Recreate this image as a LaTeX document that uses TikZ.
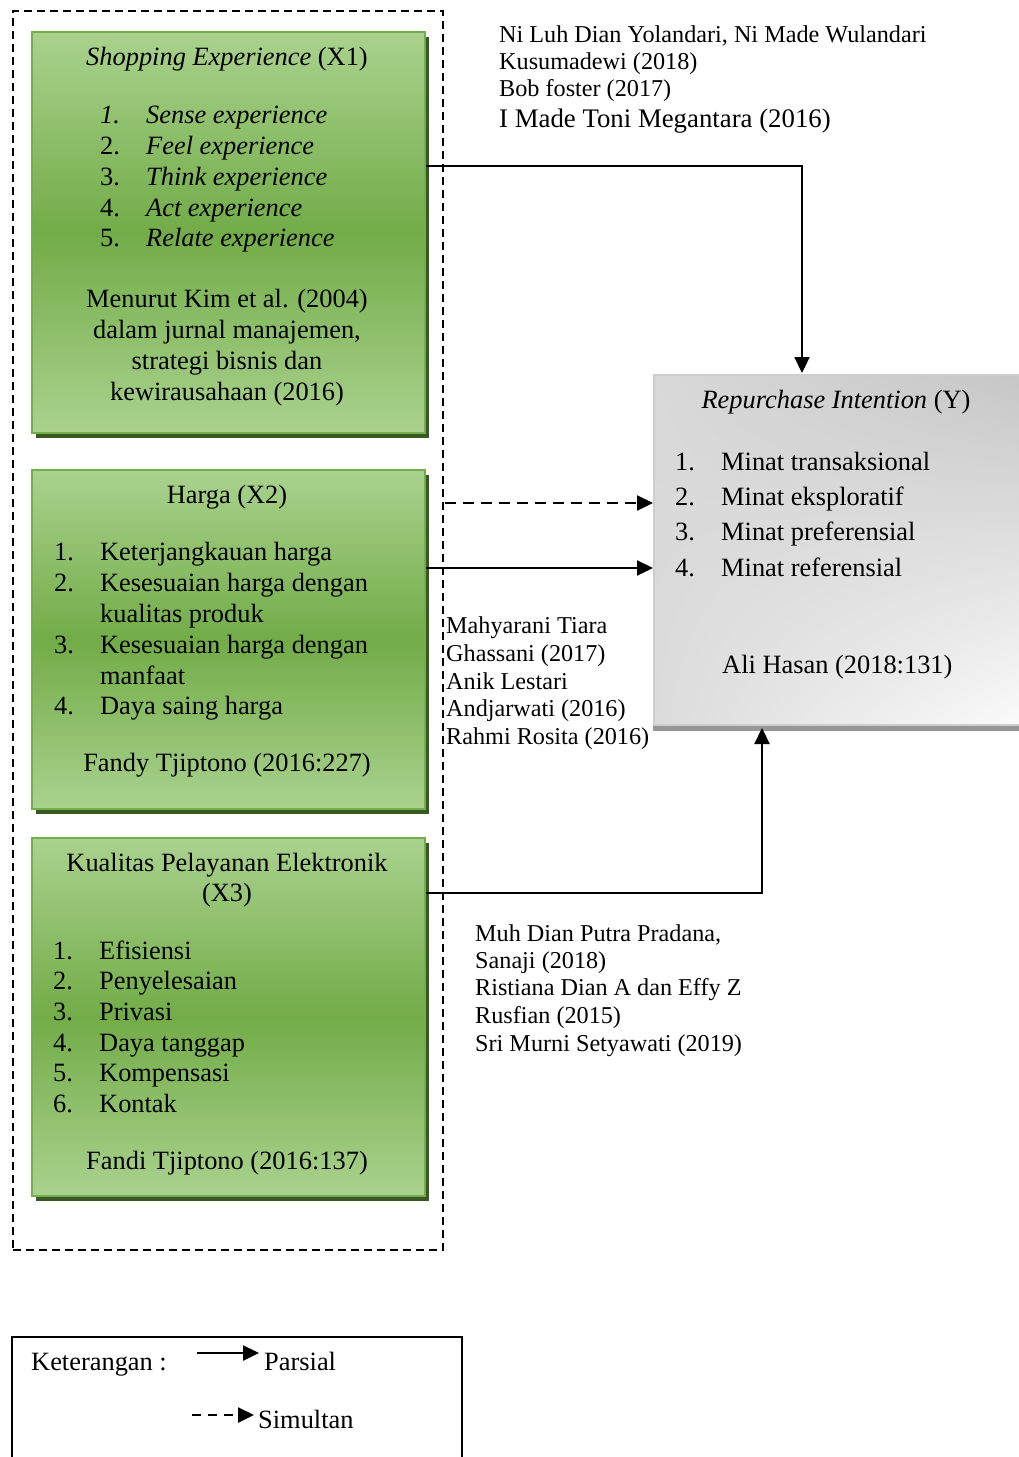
\documentclass[tikz,border=0pt]{standalone}
\usepackage{fontspec}
\setmainfont{Liberation Serif}
\usetikzlibrary{arrows.meta,calc,shadows,shadings}
\definecolor{gtop}{RGB}{170,210,142}
\definecolor{gmid}{RGB}{114,172,72}
\definecolor{gbord}{RGB}{116,174,76}
\definecolor{gshad}{RGB}{58,88,36}
\definecolor{ybord}{RGB}{205,205,205}
\definecolor{yshad}{RGB}{150,150,150}
\newcommand{\nm}[1]{\makebox[46pt][l]{#1}}
\begin{document}
\begin{tikzpicture}[x=1pt,y=-1pt,
  txt/.style={inner sep=0pt, anchor=base west, font=\fontsize{26.4}{31}\selectfont},
  ctxt/.style={inner sep=0pt, anchor=base, font=\fontsize{26.4}{31}\selectfont},
  stxt/.style={inner sep=0pt, anchor=base west, font=\fontsize{24.2}{27}\selectfont},
  gbox/.style={draw=gbord, line width=2pt, top color=gtop, bottom color=gtop, middle color=gmid,
    anchor=north west, minimum width=393pt, inner sep=0pt,
    general shadow={fill=gshad, shadow xshift=4pt, shadow yshift=-5pt}},
  arr/.style={line width=2.3pt, -{Triangle[length=16pt,width=15pt]}},
  frame/.style={draw, dashed, line width=1.5pt, dash pattern=on 8pt off 5pt},
]
\useasboundingbox (0,0) rectangle (1019,1457);

% dashed frame
\node[frame, anchor=north west, minimum width=430pt, minimum height=1239pt, inner sep=0pt] (fr) at (12,10) {};

% green boxes
\node[gbox, minimum height=401pt] (x1) at (31,31) {};
\node[gbox, minimum height=339pt] (x2) at (31,469) {};
\node[gbox, minimum height=358pt] (x3) at (31,837) {};

% grey box
\fill[yshad] (653,374) rectangle (1030,731);
\shade[upper left=gray!30, upper right=gray!45, lower left=gray!28, lower right=gray!3]
  (653,374) rectangle (1030,724);
\node[draw=ybord, line width=2pt, anchor=north west, minimum width=377pt, minimum height=350pt, inner sep=0pt] (yb) at (653,374) {};

% box 1 text
\node[ctxt] (x1t) at (227,65) {\textit{Shopping Experience} (X1)};
\node[txt] (x1a) at (100,123) {\textit{\nm{1.}Sense experience}};
\node[txt] (x1b) at (100,154) {\nm{2.}\textit{Feel experience}};
\node[txt] (x1c) at (100,185) {\nm{3.}\textit{Think experience}};
\node[txt] (x1d) at (100,216) {\nm{4.}\textit{Act experience}};
\node[txt] (x1e) at (100,246) {\nm{5.}\textit{Relate experience}};
\node[ctxt] (x1r1) at (227,307) {Menurut Kim et al. (2004)};
\node[ctxt] (x1r2) at (227,338) {dalam jurnal manajemen,};
\node[ctxt] (x1r3) at (227,369) {strategi bisnis dan};
\node[ctxt] (x1r4) at (227,400) {kewirausahaan (2016)};

% box 2 text
\node[ctxt] (x2t) at (227,503) {Harga (X2)};
\node[txt] (x2a) at (54,560) {\nm{1.}Keterjangkauan harga};
\node[txt] (x2b) at (54,591) {\nm{2.}Kesesuaian harga dengan};
\node[txt] (x2c) at (54,622) {\nm{}kualitas produk};
\node[txt] (x2d) at (54,653) {\nm{3.}Kesesuaian harga dengan};
\node[txt] (x2e) at (54,684) {\nm{}manfaat};
\node[txt] (x2f) at (54,714) {\nm{4.}Daya saing harga};
\node[ctxt] (x2r) at (227,771) {Fandy Tjiptono (2016:227)};

% box 3 text
\node[ctxt] (x3t1) at (227,871) {Kualitas Pelayanan Elektronik};
\node[ctxt] (x3t2) at (227,901) {(X3)};
\node[txt] (x3a) at (53,959) {\nm{1.}Efisiensi};
\node[txt] (x3b) at (53,989) {\nm{2.}Penyelesaian};
\node[txt] (x3c) at (53,1020) {\nm{3.}Privasi};
\node[txt] (x3d) at (53,1051) {\nm{4.}Daya tanggap};
\node[txt] (x3e) at (53,1081) {\nm{5.}Kompensasi};
\node[txt] (x3f) at (53,1112) {\nm{6.}Kontak};
\node[ctxt] (x3r) at (227,1169) {Fandi Tjiptono (2016:137)};

% grey box text
\node[ctxt] (yt) at (836,408) {\textit{Repurchase Intention} (Y)};
\node[txt] (ya) at (675,470) {\nm{1.}Minat transaksional};
\node[txt] (yb2) at (675,505) {\nm{2.}Minat eksploratif};
\node[txt] (yc) at (675,540) {\nm{3.}Minat preferensial};
\node[txt] (yd) at (675,576) {\nm{4.}Minat referensial};
\node[txt] (yr) at (722,673) {Ali Hasan (2018:131)};

% reference notes
\node[stxt] (n1) at (499,42) {Ni Luh Dian Yolandari, Ni Made Wulandari};
\node[stxt] (n2) at (499,69) {Kusumadewi (2018)};
\node[stxt] (n3) at (499,96) {Bob foster (2017)};
\node[txt, font=\fontsize{26.8}{31}\selectfont] (n4) at (499,127) {I Made Toni Megantara (2016)};

\node[stxt] (m1) at (446,633) {Mahyarani Tiara};
\node[stxt] (m2) at (446,661) {Ghassani (2017)};
\node[stxt] (m3) at (446,689) {Anik Lestari};
\node[stxt] (m4) at (446,716) {Andjarwati (2016)};
\node[stxt] (m5) at (446,744) {Rahmi Rosita (2016)};

\node[stxt] (b1) at (475,941) {Muh Dian Putra Pradana,};
\node[stxt] (b2) at (475,968) {Sanaji (2018)};
\node[stxt] (b3) at (475,995) {Ristiana Dian A dan Effy Z};
\node[stxt] (b4) at (475,1023) {Rusfian (2015)};
\node[stxt] (b5) at (475,1051) {Sri Murni Setyawati (2019)};

% connectors
\draw[arr] ($(x1.north east)+(0,135)$) -| ($(yb.north west)+(149,-1)$);
\draw[arr, dash pattern=on 11pt off 7pt] ($(fr.north east)+(1,493)$) -- ($(yb.north west)+(0,129)$);
\draw[arr] ($(x2.north east)+(0,99)$) -- ($(yb.north west)+(0,194)$);
\draw[arr] ($(x3.north east)+(0,56)$) -| ($(yb.south west)+(109,2)$);

% legend
\node[draw, line width=1.5pt, anchor=north west, minimum width=450pt, minimum height=140pt, inner sep=0pt] (lg) at (11,1336) {};
\node[txt] (k1) at (31,1370) {Keterangan :};
\coordinate (p1) at (197,1353);
\coordinate (p2) at (259,1353);
\draw[arr, line width=2.5pt] (p1) -- (p2);
\node[txt] (k2) at (264,1370) {Parsial};
\coordinate (s1) at (192,1415);
\coordinate (s2) at (254,1415);
\draw[arr, line width=2.5pt, dash pattern=on 9pt off 7pt] (s1) -- (s2);
\node[txt] (k3) at (258,1428) {Simultan};
\end{tikzpicture}
\end{document}
